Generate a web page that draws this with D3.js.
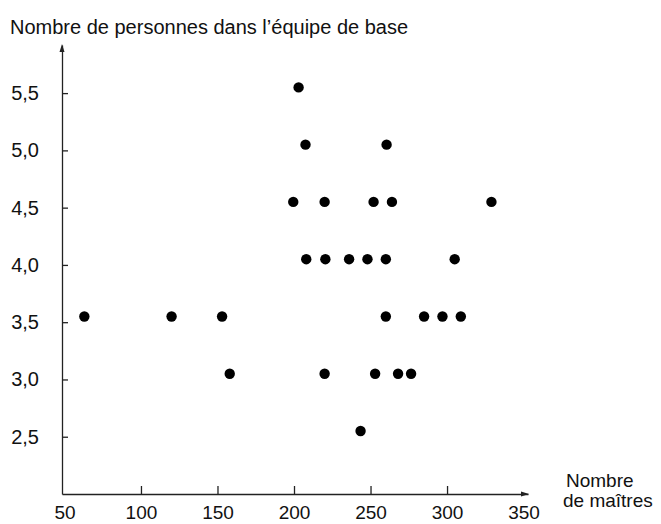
<!DOCTYPE html>
<html>
<head>
<meta charset="utf-8">
<script src="https://cdn.jsdelivr.net/npm/d3@7"></script>
<style>
  body { margin: 0; background: #fff; }
  text { font-family: "Liberation Sans", Arial, Helvetica, sans-serif; fill: #111; }
  .axis path, .axis line { stroke: #222; stroke-width: 1.3; }
</style>
</head>
<body>
<div id="chart"></div>
<script>
// Data: x = nombre de maîtres, y = personnes dans l'équipe de base
var maitres = [203, 207.5, 260.5,
               199.5, 220, 252, 264, 329,
               208, 220.5, 236, 248, 260, 305,
               63, 120, 153, 260, 285, 297, 309,
               158, 220, 253, 268, 276.5,
               243.5];
var personnes = [5.55, 5.05, 5.05,
                 4.55, 4.55, 4.55, 4.55, 4.55,
                 4.05, 4.05, 4.05, 4.05, 4.05, 4.05,
                 3.55, 3.55, 3.55, 3.55, 3.55, 3.55, 3.55,
                 3.05, 3.05, 3.05, 3.05, 3.05,
                 2.55];
var xTicks = [50, 100, 150, 200, 250, 300, 350];
var yTicks = [2.5, 3.0, 3.5, 4.0, 4.5, 5.0, 5.5];

var width = 661, height = 524;

var svg = d3.select("#chart")
            .append("svg")
            .attr("width", width)
            .attr("height", height);

// scales
var xScale = d3.scaleLinear()
  .domain([48.4, 352.9])
  .range([62, 528]);

var yScale = d3.scaleLinear()
  .domain([2.0, 5.92])
  .range([494, 45]);

var fr = d3.format(".1f");

// x axis
var xAxis = d3.axisBottom(xScale)
  .tickValues(xTicks)
  .tickSizeInner(-8)
  .tickSizeOuter(0)
  .tickPadding(11.5)
  .tickFormat(function(d) { return d; });

var gx = svg.append("g")
  .attr("class", "x axis")
  .attr("transform", "translate(0," + yScale(2.0) + ")")
  .call(xAxis);
gx.selectAll("text").style("font-size", "19px");
// no tick marks where the axis ends
gx.selectAll(".tick line").filter(function(d) { return d == 50 || d == 350; }).remove();

// y axis
var yAxis = d3.axisLeft(yScale)
  .tickValues(yTicks)
  .tickSizeInner(-6)
  .tickSizeOuter(0)
  .tickPadding(23)
  .tickFormat(function(d) { return fr(d).replace(".", ","); });

var gy = svg.append("g")
  .attr("class", "y axis")
  .attr("transform", "translate(" + xScale(48.4) + ",0)")
  .call(yAxis);
gy.selectAll("text").style("font-size", "20px");

// arrow heads
var x0 = xScale(48.4), yTop = yScale(5.92), y0 = yScale(2.0), xEnd = xScale(352.9);
svg.append("path")
  .attr("d", "M" + x0 + "," + (yTop - 1) + "L" + (x0 - 2.5) + "," + (yTop + 7) + "L" + (x0 + 2.5) + "," + (yTop + 7) + "Z")
  .style("fill", "#222");
svg.append("path")
  .attr("d", "M" + (xEnd + 1) + "," + y0 + "L" + (xEnd - 7) + "," + (y0 - 2.5) + "L" + (xEnd - 7) + "," + (y0 + 2.5) + "Z")
  .style("fill", "#222");

// points
svg.selectAll("circle.pt")
  .data(maitres)
  .enter()
  .append("circle")
  .attr("class", "pt")
  .attr("cx", function(d) { return xScale(d); })
  .attr("cy", function(d, i) { return yScale(personnes[i]); })
  .attr("r", 5.2)
  .style("fill", "#000");

// titles
svg.append("text")
  .attr("x", 10)
  .attr("y", 34)
  .style("font-size", "20px")
  .text("Nombre de personnes dans l\u2019équipe de base");

svg.append("text")
  .attr("x", 566)
  .attr("y", 487)
  .style("font-size", "19px")
  .text("Nombre");
svg.append("text")
  .attr("x", 563)
  .attr("y", 507)
  .style("font-size", "19px")
  .text("de maîtres");
</script>
</body>
</html>
